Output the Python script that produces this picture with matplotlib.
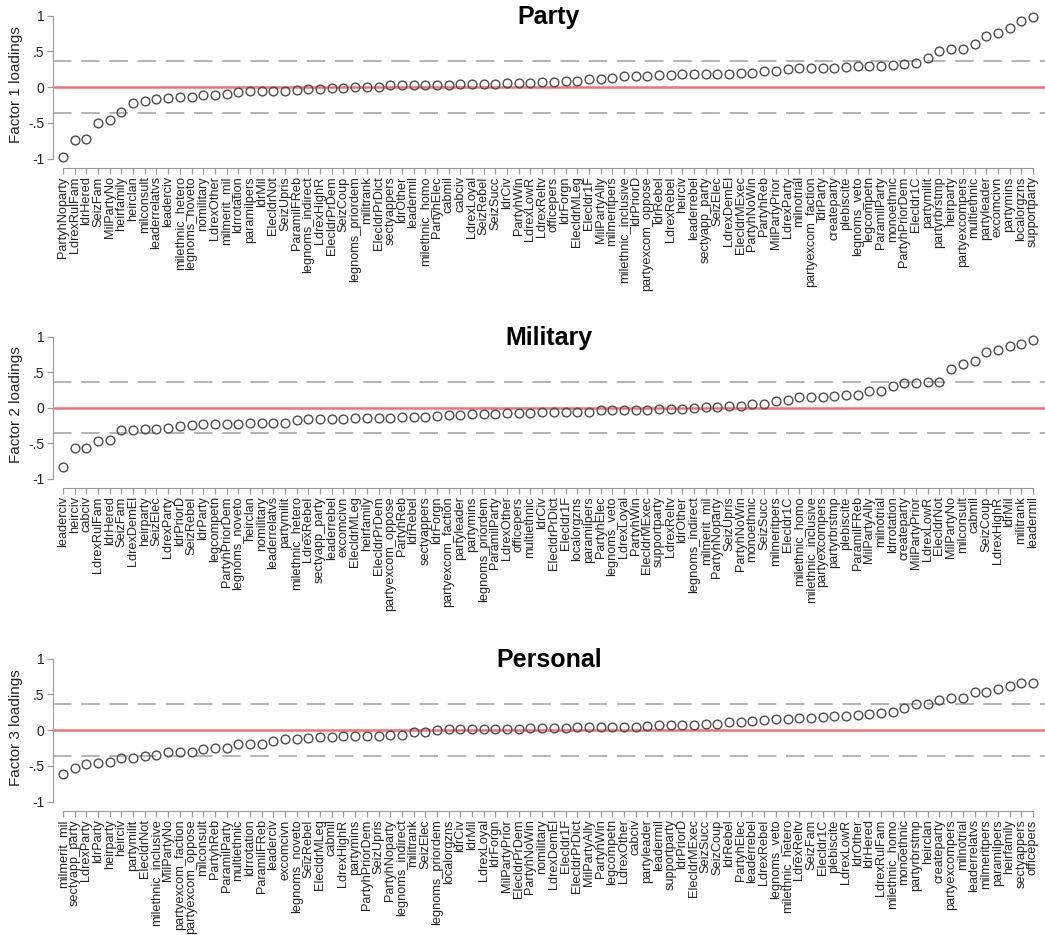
import matplotlib
matplotlib.use("Agg")
import matplotlib.pyplot as plt
import numpy as np

plt.rcParams['font.family'] = ['Liberation Sans', 'DejaVu Sans']

# factor 1 (Party) loadings, sorted
party_labels = [
    'PartyhNoparty', 'LdrexRulFam', 'ldrHered', 'SeizFam', 'MilPartyNo', 'heirfamily',
    'heirclan', 'milconsult', 'leaderrelatvs', 'leaderciv', 'milethnic_hetero',
    'legnoms_noveto', 'nomilitary', 'LdrexOther', 'milmerit_mil', 'ldrrotation',
    'paramilpers', 'ldrMil', 'ElecldrNot', 'SeizUpris', 'ParamilFReb', 'legnoms_indirect',
    'LdrexHighR', 'ElecldrPrDem', 'SeizCoup', 'legnoms_priordem', 'militrank',
    'ElecldrPrDict', 'sectyappers', 'ldrOther', 'leadermil', 'milethnic_homo', 'PartyhElec',
    'cabmil', 'cabciv', 'LdrexLoyal', 'SeizRebel', 'SeizSucc', 'ldrCiv', 'PartyhWin',
    'LdrexLowR', 'LdrexReltv', 'officepers', 'ldrForgn', 'ElecldrMLeg', 'Elecldr1F',
    'MilPartyAlly', 'milmeritpers', 'milethnic_inclusive', 'ldrPriorD', 'partyexcom_oppose',
    'ldrRebel', 'LdrexRebel', 'heirciv', 'leaderrebel', 'sectyapp_party', 'SeizElec',
    'LdrexDemEl', 'ElecldrMExec', 'PartyhNoWin', 'PartyhReb', 'MilPartyPrior', 'LdrexParty',
    'milnotrial', 'partyexcom_faction', 'ldrParty', 'createparty', 'plebiscite',
    'legnoms_veto', 'legcompetn', 'ParamilParty', 'monoethnic', 'PartyhPriorDem',
    'Elecldr1C', 'partymilit', 'partyrbrstmp', 'heirparty', 'partyexcompers', 'multiethnic',
    'partyleader', 'excomcivn', 'partymins', 'localorgzns', 'supportparty']
party_values = [
    -0.98, -0.74, -0.72, -0.50, -0.46, -0.35, -0.22, -0.19, -0.17, -0.15, -0.14, -0.14,
    -0.11, -0.11, -0.09, -0.07, -0.05, -0.05, -0.05, -0.05, -0.04, -0.02, -0.02, -0.005,
    -0.005, 0.0, 0.0, 0.005, 0.025, 0.025, 0.03, 0.03, 0.035, 0.035, 0.04, 0.04, 0.045,
    0.05, 0.055, 0.055, 0.06, 0.065, 0.065, 0.08, 0.09, 0.11, 0.12, 0.13, 0.15, 0.155,
    0.16, 0.165, 0.17, 0.18, 0.18, 0.185, 0.19, 0.19, 0.195, 0.20, 0.22, 0.23, 0.255,
    0.265, 0.265, 0.27, 0.27, 0.275, 0.29, 0.29, 0.30, 0.31, 0.33, 0.34, 0.41, 0.50,
    0.53, 0.54, 0.60, 0.72, 0.76, 0.82, 0.93, 0.98]

# factor 2 (Military) loadings, sorted
military_labels = [
    'leaderciv', 'heirciv', 'cabciv', 'LdrexRulFam', 'ldrHered', 'SeizFam', 'LdrexDemEl',
    'heirparty', 'SeizElec', 'LdrexParty', 'ldrPriorD', 'SeizRebel', 'ldrParty', 'legcompetn',
    'PartyhPriorDem', 'legnoms_noveto', 'heirclan', 'nomilitary', 'leaderrelatvs',
    'partymilit', 'milethnic_hetero', 'LdrexRebel', 'sectyapp_party', 'leaderrebel',
    'excomcivn', 'ElecldrMLeg', 'heirfamily', 'ElecldrPrDem', 'partyexcom_oppose',
    'PartyhReb', 'ldrRebel', 'sectyappers', 'ldrForgn', 'partyexcom_faction', 'partyleader',
    'partymins', 'legnoms_priordem', 'ParamilParty', 'LdrexOther', 'officepers',
    'multiethnic', 'ldrCiv', 'ElecldrPrDict', 'Elecldr1F', 'localorgzns', 'paramilpers',
    'PartyhElec', 'legnoms_veto', 'LdrexLoyal', 'PartyhWin', 'ElecldrMExec', 'supportparty',
    'LdrexReltv', 'ldrOther', 'legnoms_indirect', 'milmerit_mil', 'PartyhNoparty',
    'SeizUpris', 'PartyhNoWin', 'monoethnic', 'SeizSucc', 'milmeritpers', 'Elecldr1C',
    'milethnic_homo', 'milethnic_inclusive', 'partyexcompers', 'partyrbrstmp', 'plebiscite',
    'ParamilFReb', 'MilPartyAlly', 'milnotrial', 'ldrrotation', 'createparty',
    'MilPartyPrior', 'LdrexLowR', 'ElecldrNot', 'MilPartyNo', 'milconsult', 'cabmil',
    'SeizCoup', 'LdrexHighR', 'ldrMil', 'militrank', 'leadermil']
military_values = [
    -0.83, -0.57, -0.57, -0.47, -0.45, -0.32, -0.32, -0.30, -0.30, -0.29, -0.26, -0.25,
    -0.23, -0.23, -0.23, -0.23, -0.22, -0.22, -0.22, -0.22, -0.17, -0.16, -0.155, -0.155,
    -0.155, -0.15, -0.15, -0.145, -0.14, -0.135, -0.13, -0.125, -0.115, -0.11, -0.10,
    -0.095, -0.085, -0.085, -0.08, -0.075, -0.07, -0.06, -0.06, -0.06, -0.055, -0.055,
    -0.04, -0.03, -0.03, -0.03, -0.03, -0.025, -0.02, -0.015, 0.0, 0.005, 0.015, 0.02,
    0.02, 0.055, 0.055, 0.09, 0.11, 0.145, 0.155, 0.155, 0.17, 0.175, 0.18, 0.23, 0.235,
    0.31, 0.34, 0.34, 0.36, 0.36, 0.545, 0.615, 0.66, 0.78, 0.81, 0.87, 0.895, 0.955]

# factor 3 (Personal) loadings, sorted
personal_labels = [
    'milmerit_mil', 'sectyapp_party', 'LdrexParty', 'ldrParty', 'heirparty', 'heirciv',
    'partymilit', 'ElecldrNot', 'milethnic_inclusive', 'MilPartyNo', 'partyexcom_faction',
    'partyexcom_oppose', 'milconsult', 'PartyhReb', 'ParamilParty', 'multiethnic',
    'ldrrotation', 'ParamilFReb', 'leaderciv', 'excomcivn', 'legnoms_noveto', 'SeizRebel',
    'ElecldrMLeg', 'cabmil', 'LdrexHighR', 'partymins', 'PartyhPriorDem', 'SeizUpris',
    'PartyhNoparty', 'legnoms_indirect', 'militrank', 'SeizElec', 'legnoms_priordem',
    'localorgzns', 'ldrCiv', 'ldrMil', 'LdrexLoyal', 'ldrForgn', 'MilPartyPrior',
    'ElecldrPrDem', 'PartyhNoWin', 'nomilitary', 'LdrexDemEl', 'Elecldr1F', 'ElecldrPrDict',
    'MilPartyAlly', 'PartyhWin', 'legcompetn', 'LdrexOther', 'cabciv', 'partyleader',
    'leadermil', 'supportparty', 'ldrPriorD', 'ElecldrMExec', 'SeizSucc', 'SeizCoup',
    'ldrRebel', 'PartyhElec', 'leaderrebel', 'LdrexRebel', 'legnoms_veto',
    'milethnic_hetero', 'LdrexReltv', 'SeizFam', 'Elecldr1C', 'plebiscite', 'LdrexLowR',
    'ldrOther', 'ldrHered', 'LdrexRulFam', 'milethnic_homo', 'monoethnic', 'partyrbrstmp',
    'heirclan', 'createparty', 'partyexcompers', 'milnotrial', 'leaderrelatvs',
    'milmeritpers', 'paramilpers', 'heirfamily', 'sectyappers', 'officepers']
personal_values = [
    -0.61, -0.53, -0.47, -0.46, -0.45, -0.39, -0.39, -0.36, -0.35, -0.31, -0.30, -0.30,
    -0.26, -0.25, -0.25, -0.20, -0.20, -0.20, -0.15, -0.13, -0.125, -0.11, -0.10, -0.09,
    -0.08, -0.08, -0.08, -0.075, -0.07, -0.065, -0.03, -0.03, 0.0, 0.01, 0.01, 0.01,
    0.015, 0.015, 0.02, 0.02, 0.025, 0.035, 0.035, 0.035, 0.04, 0.04, 0.04, 0.045, 0.05,
    0.05, 0.055, 0.065, 0.07, 0.075, 0.075, 0.08, 0.085, 0.11, 0.115, 0.13, 0.145, 0.155,
    0.16, 0.17, 0.17, 0.18, 0.195, 0.20, 0.21, 0.23, 0.24, 0.25, 0.31, 0.37, 0.37, 0.42,
    0.45, 0.455, 0.53, 0.53, 0.57, 0.62, 0.66, 0.66]

titles = ['Party', 'Military', 'Personal']
ylabels = ['Factor 1 loadings', 'Factor 2 loadings', 'Factor 3 loadings']
cutoff = 0.36

fig = plt.figure(figsize=(10.45, 9.35), dpi=100)
W, H = 1045, 935
# top/bottom pixel rows of each panel
panel_px = [(7, 168), (328, 488), (650, 811)]
data = [(party_labels, party_values), (military_labels, military_values),
        (personal_labels, personal_values)]

for i, (labels, vals) in enumerate(data):
    top, bot = panel_px[i]
    ax = fig.add_axes([53 / W, 1 - bot / H, 992 / W, (bot - top) / H])
    x = np.arange(1, len(vals) + 1)
    ax.axhline(0, color='#f27373', lw=1.8, zorder=1)
    for c in (cutoff, -cutoff):
        ax.axhline(c, color='#b3b3b3', lw=1.4, dashes=(9.5, 5), zorder=1)
    ax.plot(x, vals, 'o', mfc='none', mec='#4d4d4d', ms=6.3, mew=1.0, zorder=3)

    ax.set_xlim(0.145, 85.03)
    ax.set_ylim(-1.13, 1.12)
    ax.set_xticks(x)
    ax.set_xticklabels(labels, rotation=90, fontsize=9.2, color='#222222')
    ax.set_yticks([-1, -0.5, 0, 0.5, 1])
    ax.set_yticklabels(['-1', '-.5', '0', '.5', '1'], fontsize=10, color='#222222')
    ax.tick_params(color='#999999', length=4, width=0.9, pad=2)

    for s in ('top', 'right'):
        ax.spines[s].set_visible(False)
    ax.spines['left'].set_bounds(-1, 1)
    ax.spines['bottom'].set_bounds(1, len(vals))
    ax.spines['left'].set_color('#999999')
    ax.spines['bottom'].set_color('#999999')

    ax.set_ylabel(ylabels[i], fontsize=11, color='#222222')
    ax.yaxis.set_label_coords(-0.030, 0.52)
    ax.text(0.5, 0.94, titles[i], transform=ax.transAxes, ha='center', va='center',
            fontsize=18, fontweight='bold')

fig.savefig('out.png', dpi=100)
